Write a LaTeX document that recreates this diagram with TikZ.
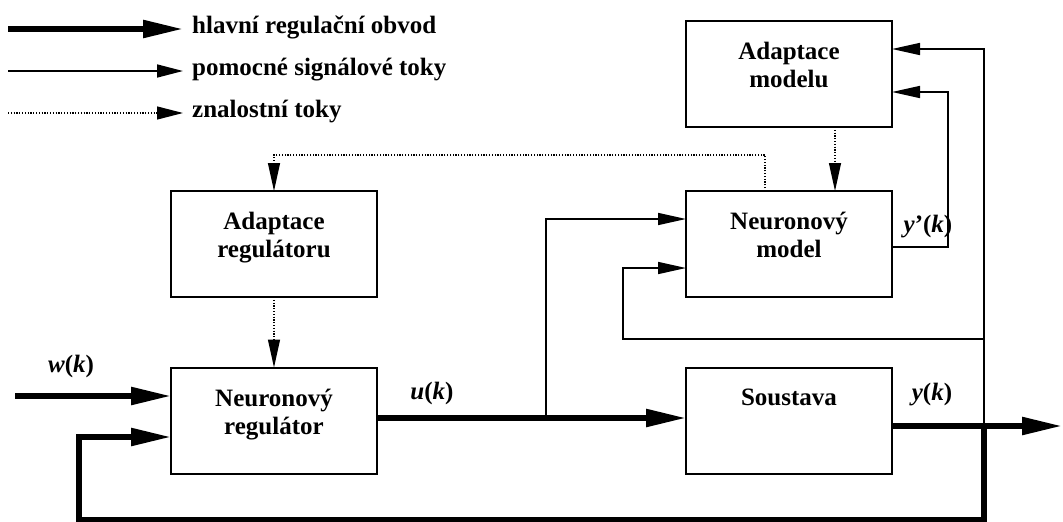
\documentclass[tikz,border=0pt]{standalone}
\usepackage{fontspec}
\setmainfont{Liberation Serif}
\usetikzlibrary{arrows.meta}
\begin{document}
\begin{tikzpicture}[x=1pt,y=-1pt,line join=miter,
  box/.style={draw,line width=2pt,minimum width=206pt,minimum height=106pt,inner sep=0pt,outer sep=0pt},
  btext/.style={anchor=north,align=center,inner sep=0pt,font=\bfseries\fontsize{25}{28}\selectfont},
  lbl/.style={anchor=base,inner sep=0pt,font=\bfseries\fontsize{25}{28}\selectfont},
  main/.style={line width=5.5pt,-{Triangle[length=40pt,width=17pt]}},
  mainline/.style={line width=5.5pt},
  aux/.style={line width=1.6pt,-{Triangle[length=28pt,width=12pt]}},
  know/.style={line width=1.2pt,dash pattern=on 1.2pt off 1.6pt,-{Triangle[length=28pt,width=12pt]}},
]
\useasboundingbox (0,0) rectangle (1063,522);

% legend
\coordinate (l1a) at (8,29);  \coordinate (l1b) at (183,29);
\coordinate (l2a) at (8,71);  \coordinate (l2b) at (183,71);
\coordinate (l3a) at (8,113); \coordinate (l3b) at (183,113);
\draw[main] (l1a) -- (l1b);
\draw[aux,-{Triangle[length=26pt,width=13pt]}] (l2a) -- (l2b);
\draw[know,-{Triangle[length=26pt,width=13pt]}] (l3a) -- (l3b);
\node[lbl,anchor=base west] (t1) at (192,33) {hlavní regulační obvod};
\node[lbl,anchor=base west] (t2) at (192,75) {pomocné signálové toky};
\node[lbl,anchor=base west] (t3) at (192,117) {znalostní toky};

% boxes
\node[box] (am) at (789,74) {};
\node[box] (nm) at (789,244) {};
\node[box] (ar) at (274,244) {};
\node[box] (nr) at (274,420.5) {};
\node[box] (s)  at (789,420.5) {};

\node[btext] (amt) at ([yshift=-21pt]am.north) {Adaptace\\modelu};
\node[btext] (nmt) at ([yshift=-21pt]nm.north) {Neuronový\\model};
\node[btext] (art) at ([yshift=-21pt]ar.north) {Adaptace\\regulátoru};
\node[btext] (nrt) at ([yshift=-21pt]nr.north) {Neuronový\\regulátor};
\node[btext] (st)  at ([yshift=-21pt]s.north) {Soustava};

% labels
\node[lbl] (wl) at (71,372) {\itshape w\upshape(\itshape k\upshape)};
\node[lbl] (ul) at (432,399) {\itshape u\upshape(\itshape k\upshape)};
\node[lbl] (yl) at (932,400) {\itshape y\upshape(\itshape k\upshape)};
\node[lbl] (ypl) at (928,232) {\itshape y\upshape’(\itshape k\upshape)};

% main loop
\coordinate (win) at (15,396);
\coordinate (ubr) at (546,418);
\coordinate (ybr) at (984,426);
\coordinate (yout) at (1062,426);
\coordinate (fbr) at (984,520);
\coordinate (fbl) at (79,520);
\coordinate (fbin) at (79,437);
\draw[main] (win) -- (win -| nr.west);
\draw[main] (nr.east |- ubr) -- (s.west |- ubr);
\draw[main] (s.east |- ybr) -- (yout);
\draw[main] (ybr) -- (fbr) -- (fbl) -- (fbin) -- (fbin -| nr.west);

% auxiliary signals
\coordinate (ut) at (546,219);
\draw[aux] (ubr) -- (ut) -- (ut -| nm.west);
\coordinate (yt) at (984,49);
\draw[aux] (ybr) -- (yt) -- (yt -| am.east);
\coordinate (ym) at (984,339);
\coordinate (yl1) at (623,339);
\coordinate (yl2) at (623,268);
\draw[aux] (ym) -- (yl1) -- (yl2) -- (yl2 -| nm.west);
\coordinate (m1) at (948,247);
\coordinate (m2) at (948,92);
\draw[aux] (nm.east |- m1) -- (m1) -- (m2) -- (m2 -| am.east);

% knowledge flows
\coordinate (kx) at (835,0);
\draw[know] (am.south -| kx) -- (nm.north -| kx);
\coordinate (k1) at (765,155);
\coordinate (k2) at (274,155);
\draw[know] (nm.north -| k1) -- (k1) -- (k2) -- (ar.north);
\draw[know] (ar.south) -- (nr.north);
\end{tikzpicture}
\end{document}
